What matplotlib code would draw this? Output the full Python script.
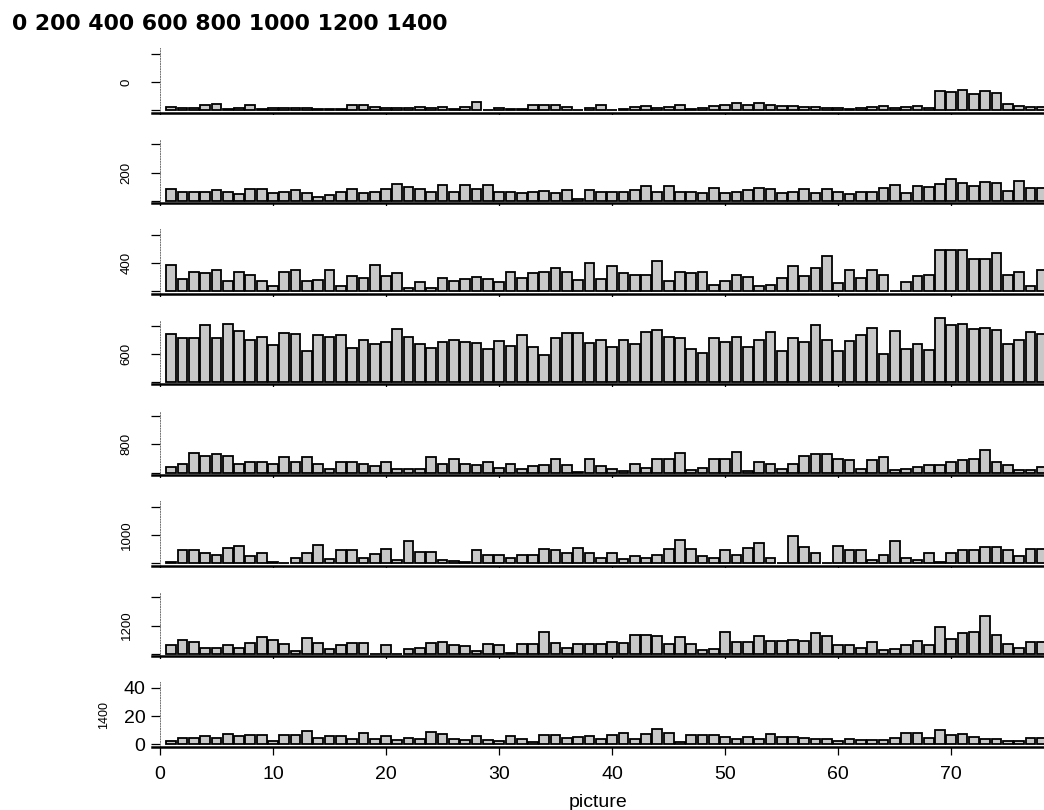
import numpy as np
import matplotlib
matplotlib.use('Agg')
import matplotlib.pyplot as plt

plt.rcParams['font.family'] = ['Liberation Sans', 'DejaVu Sans']

# one row of bars per group, bar k = picture k
groups = ['0', '200', '400', '600', '800', '1000', '1200', '1400']
pictures = np.arange(1, 79)

g0 = [2, 1.4, 1.4, 3.4, 4.1, 0.7, 1.8, 3.9, 0.7, 1.2, 1.4, 1.4, 1.4, 0.5, 0.5, 0.5, 3.9, 3.9, 2.5, 1.4,
      1.8, 1.8, 2.3, 1.8, 2.3, 0.7, 2.3, 5.7, 0.3, 1.6, 0.7, 0.7, 3.4, 3.4, 3.4, 2.5, 0.3, 1.8, 3.9, 0.2,
      0.7, 2, 3, 1.6, 2.5, 3.4, 0.7, 1.6, 3, 3.9, 5.3, 3.4, 5.3, 3.9, 3, 3, 2.5, 2.5, 1.8, 1.4,
      0.7, 1.8, 2, 3, 1.6, 2.5, 3, 1.6, 13.6, 12.9, 14.1, 11.7, 13.6, 12.4, 4.2, 3, 1.9, 1.9]
g200 = [8, 6.4, 6.4, 6.4, 7.8, 6.4, 4.6, 8.3, 8.3, 5.7, 6.4, 7.6, 5.3, 2.8, 4.1, 6.4, 8, 5.3, 6.4, 8.3,
        12.2, 10.1, 8.3, 6.4, 11, 6.4, 11.5, 8.3, 11.5, 6.4, 6, 5.3, 6, 6.9, 5.3, 7.6, 1.4, 7.6, 6.4, 6.4,
        6.4, 7.6, 10.3, 6.4, 10.3, 6.4, 6, 5.3, 9.2, 5.3, 6, 7.6, 9.4, 8, 5.3, 6, 8.3, 5.3, 8.3, 6.4,
        4.8, 6.4, 6, 8.7, 11, 5.3, 10.3, 9.9, 12, 15.3, 12.9, 10.6, 13.6, 12.9, 6.6, 14, 8.9, 8.9]
g400 = [19, 8.8, 14, 13, 15.5, 7.6, 14, 11.7, 7.6, 4, 14, 15.5, 7.6, 8.3, 15.5, 4, 11.2, 9.8, 19, 10.7,
        13, 2.6, 6.9, 2.1, 9.8, 7.6, 9, 10.5, 9, 6.9, 14, 9.8, 13.3, 14, 16.9, 14, 8.3, 19.8, 9, 17.9,
        13, 11.9, 11.9, 21.4, 7.6, 14, 13, 14, 4.5, 7.6, 11.9, 10.5, 3.6, 4.8, 9.8, 17.9, 11.2, 16.7, 24.8, 6,
        15.5, 9.8, 15.5, 11.9, 0.5, 6.9, 11.2, 11.9, 29, 29, 29, 22.6, 22.6, 27.4, 11.9, 14, 4, 15.5]
g600 = [33.8, 31.5, 31.5, 40.2, 31.5, 40.9, 36.3, 30.1, 32.2, 26, 34.7, 34.3, 21.8, 33.6, 32.2, 33.6, 23.9, 29.9, 26.7, 28,
        37.7, 32.2, 26.7, 23.9, 28, 29.7, 28, 27.6, 23.7, 29.2, 25.7, 33.6, 24.6, 19.1, 31, 34.7, 34.7, 27.6, 29.7, 24.6,
        29.7, 26.7, 35.4, 36.8, 32, 31.3, 23.7, 20.2, 31.5, 28, 32, 24.6, 30.1, 35.2, 22.3, 31, 28, 40.2, 29.9, 22.3,
        29.2, 33.3, 38.4, 19.5, 36.1, 23.7, 26.7, 23, 45.7, 40.2, 40.9, 37.5, 38.4, 36.8, 26.7, 29.9, 35.6, 34]
g800 = [4.1, 6.2, 13.8, 11.5, 13.1, 11.5, 6.2, 7.8, 7.8, 6.2, 11, 7.8, 11, 6.2, 2.8, 7.8, 7.8, 6.2, 4.6, 7.8,
        2.3, 2.8, 2.8, 11, 6.2, 9.7, 6.2, 5.5, 7.8, 3.2, 6.2, 2.3, 4.6, 5.5, 9.7, 5.5, 0.5, 9.7, 4.6, 2.3,
        0.9, 6.2, 3.2, 9.7, 9.7, 13.8, 2, 3.2, 9.7, 9.7, 14.7, 0.9, 7.8, 6.2, 2.3, 6.2, 11.5, 13.1, 13.1, 9.7,
        9.2, 2.3, 9.2, 11, 1.6, 2.8, 3.9, 5.5, 5.5, 7.8, 9.2, 9.7, 16.1, 7.8, 5.5, 1.6, 1.6, 3.9]
g1000 = [0.5, 9.4, 9.4, 7.1, 5.7, 11, 12.2, 5.3, 7.1, 1.1, 0.2, 3.9, 7.1, 12.9, 3, 9.4, 9.4, 3.9, 6.4, 9.9,
         2, 15.4, 8, 7.6, 2, 1.6, 0.7, 9.4, 5.7, 5.7, 3.9, 5.7, 5.9, 9.9, 9.4, 7.1, 10.6, 7.1, 3.4, 7.1,
         3, 4.8, 3.4, 5.9, 9.9, 16.3, 9.9, 5.3, 3.4, 9.4, 5.9, 10.6, 14.5, 3.4, 0.1, 19, 11.5, 7.1, 0.2, 12.2,
         9.4, 9.4, 2.5, 5.9, 16, 3.9, 2.5, 7.1, 1.1, 7.1, 9.4, 9.4, 11.5, 11.5, 9.4, 5.3, 9.9, 9.9]
g1200 = [6.2, 9.9, 8, 4.4, 4.4, 6.4, 3.9, 7.8, 12, 9.9, 7.1, 2.1, 11.3, 7.8, 3.7, 6, 7.6, 7.6, 0, 6,
         0, 3.5, 4.4, 7.6, 8.5, 6.2, 5.7, 2.3, 7.1, 6, 0.2, 6.9, 7.1, 15.4, 7.8, 3.9, 6.9, 7.1, 7.1, 8.5,
         7.8, 13.6, 13.6, 12.6, 7.1, 12.2, 7.1, 2.5, 3.7, 15.4, 8.3, 8, 12.6, 8.7, 9, 9.9, 9.4, 14.7, 12.9, 6,
         6.4, 4.4, 8, 2.5, 3.5, 6.4, 9, 6.4, 19, 10.6, 15, 15.4, 27, 13.6, 7.1, 4.1, 8, 8]
g1400 = [2.4, 4.8, 4.8, 6, 4.8, 7.6, 6, 6.4, 6.4, 2.4, 6.4, 6.4, 9.3, 4.8, 5.7, 5.7, 3.6, 8.3, 3.6, 5.7,
         3.1, 4.5, 3.6, 9, 7.1, 3.6, 2.9, 6, 2.9, 2.1, 6, 4, 1.7, 6.4, 6.9, 4.5, 5, 6, 4, 6.9,
         7.9, 4, 7.1, 10.7, 8.3, 1.7, 6.9, 6.9, 6.7, 5.5, 3.6, 5.5, 3.6, 7.4, 5, 5.5, 4.3, 3.6, 3.6, 2.4,
         4, 3.1, 3.1, 3.1, 4.8, 8.3, 7.9, 4.8, 10.2, 6.4, 7.6, 5, 3.6, 4, 2.4, 2.4, 4.8, 4.8]

counts = [g0, g200, g400, g600, g800, g1000, g1200, g1400]

W, H = 1044, 810
fig = plt.figure(figsize=(W / 100, H / 100), dpi=100)

fig.text(12 / W, 1 - 24 / H, ' '.join(groups), fontsize=15.8, fontweight='bold',
         family='DejaVu Sans', ha='left', va='center')

ax_left = 152 / W
ax_w = 1 - ax_left
panel_h = 88
y_lo, px_per_unit = -1.8, 1.41

for i, (name, vals) in enumerate(zip(groups, counts)):
    spine_y = 112.7 + 90.6 * i
    ax = fig.add_axes([ax_left, 1 - spine_y / H, ax_w, panel_h / H])
    ax.bar(pictures, vals, width=0.86, color='#c8c8c8', edgecolor='black', linewidth=1.3)

    ax.set_xlim(-0.7, 78.2)
    ax.set_ylim(y_lo, y_lo + panel_h / px_per_unit)

    for s in ['top', 'right']:
        ax.spines[s].set_visible(False)
    ax.spines['bottom'].set_linewidth(1.8)
    ax.spines['left'].set_position(('data', 0))
    ax.spines['left'].set_bounds(y_lo, 44)
    ax.spines['left'].set_linestyle(':')
    ax.spines['left'].set_linewidth(0.7)
    ax.spines['left'].set_color('0.45')

    ax.set_xticks(range(0, 80, 10))
    ax.set_yticks([0, 20, 40])
    ax.tick_params(axis='x', length=6, width=0.9, pad=8, labelsize=14)
    ax.tick_params(axis='y', length=6.5, width=0.9, pad=4, labelsize=14)

    if i < len(groups) - 1:
        ax.set_xticklabels([])
        ax.set_yticklabels([])
        ax.annotate(name, xy=(0, 20), xytext=(-24, 0), textcoords='offset points',
                    rotation=90, ha='center', va='center', fontsize=9.5)
    else:
        ax.annotate(name, xy=(0, 21), xytext=(-40, 0), textcoords='offset points',
                    rotation=90, ha='center', va='center', fontsize=9)
        ax.set_xlabel('picture', fontsize=14, labelpad=8)

fig.savefig('out.png', dpi=100)
